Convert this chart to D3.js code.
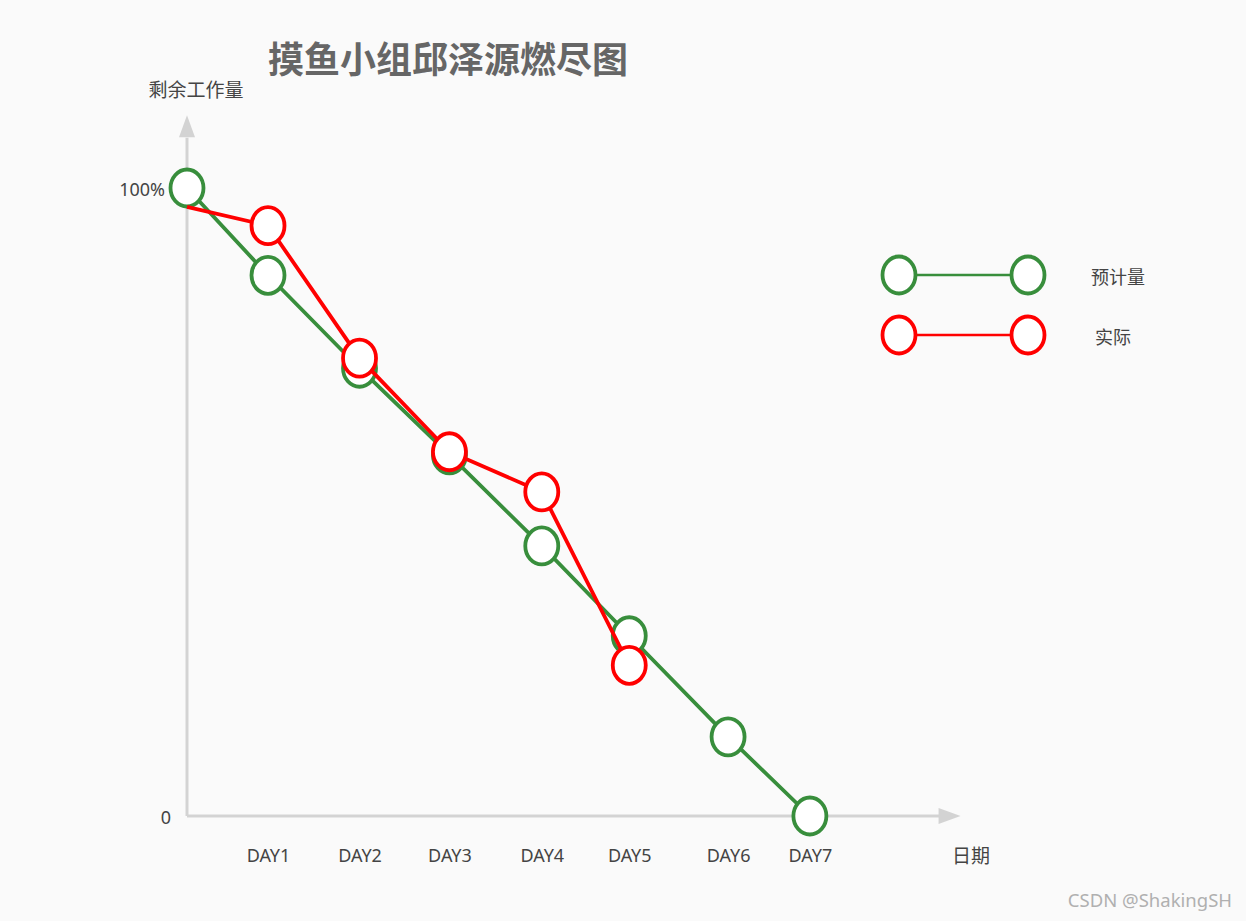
<!DOCTYPE html>
<html>
<head>
<meta charset = 'utf-8'>
<script src = 'https://d3js.org/d3.v7.min.js'></script>
<style>
body { margin: 0; background: #fafafa; }
text { font-family: 'Noto Sans', 'Noto Sans CJK SC', sans-serif; }
</style>
</head>
<body>
<div id="my_dataviz"></div>
<script>
// data
var days = ['DAY1', 'DAY2', 'DAY3', 'DAY4', 'DAY5', 'DAY6', 'DAY7'];
var dayX = [1, 2.13, 3.24, 4.38, 5.46, 6.68, 7.69];
var planned = [100, 86.1, 71.3, 57.5, 43.0, 28.7, 12.6, 0];
var actual = [97.0, 94.0, 72.9, 58.0, 51.6, 24.0];
var seriesNames = ['预计量', '实际'];
var seriesColors = ['#388e3c', '#ff0000'];

var width = 1246, height = 921;

var svg = d3.select('#my_dataviz')
.append('svg')
.attr('width', width)
.attr('height', height)
.style('background', '#fafafa');

var x = d3.scaleLinear().domain([0, 8]).range([187, 835]);
var y = d3.scaleLinear().domain([0, 100]).range([816, 188]);

var xs = [0].concat(dayX);

// axes lines + arrows
var axisColor = '#d3d3d3';
svg.append('line')
.attr('x1', x(0)).attr('y1', y(0))
.attr('x2', x(9.3)).attr('y2', y(0))
.style('stroke', axisColor).style('stroke-width', 3);
svg.append('line')
.attr('x1', x(0)).attr('y1', y(0))
.attr('x2', x(0)).attr('y2', y(108))
.style('stroke', axisColor).style('stroke-width', 3);
svg.append('path')
.attr('d', 'M' + x(9.55) + ',' + y(0) + 'L' + (x(9.55) - 22) + ',' + (y(0) - 8) + 'L' + (x(9.55) - 22) + ',' + (y(0) + 8) + 'Z')
.style('fill', axisColor);
svg.append('path')
.attr('d', 'M' + x(0) + ',' + y(111.6) + 'L' + (x(0) - 8) + ',' + (y(111.6) + 22) + 'L' + (x(0) + 8) + ',' + (y(111.6) + 22) + 'Z')
.style('fill', axisColor);

// tick labels
var yAxis = svg.append('g')
.call(d3.axisLeft(y).tickValues([0, 100]).tickSize(0).tickPadding(22)
.tickFormat(function(d) { return d === 100 ? '100%' : '0'; }))
.attr('transform', 'translate(' + x(0) + ',0)');
yAxis.select('.domain').remove();
yAxis.selectAll('text')
.attr('dy', '0.4em')
.style('font-size', '18px').style('fill', '#444')
.style('font-family', "'Noto Sans', 'Noto Sans CJK SC', sans-serif");
yAxis.selectAll('.tick').filter(function(d) { return d === 0; })
.select('text').attr('x', -16);

var xAxis = svg.append('g')
.call(d3.axisBottom(x).tickValues(dayX).tickSize(0).tickPadding(33)
.tickFormat(function(d, i) { return days[i]; }))
.attr('transform', 'translate(0,' + y(0) + ')');
xAxis.select('.domain').remove();
xAxis.selectAll('text')
.style('font-size', '18px').style('fill', '#444')
.style('font-family', "'Noto Sans', 'Noto Sans CJK SC', sans-serif");

// titles
svg.append('text')
.attr('x', 268).attr('y', 73)
.text('摸鱼小组邱泽源燃尽图')
.style('font-size', '36px').style('font-weight', 'bold').style('fill', '#666');
svg.append('text')
.attr('x', 196).attr('y', 97).attr('text-anchor', 'middle')
.text('剩余工作量')
.style('font-size', '19px').style('fill', '#444');
svg.append('text')
.attr('x', 971).attr('y', 863).attr('text-anchor', 'middle')
.text('日期')
.style('font-size', '19px').style('fill', '#444');

// series
var line = d3.line()
.x(function(d) { return x(d[0]); })
.y(function(d) { return y(d[1]); });

function drawSeries(values, color, withFirst) {
  var pts = values.map(function(v, i) { return [xs[i], v]; });
  svg.append('path')
  .datum(pts)
  .attr('d', line)
  .style('fill', 'none')
  .style('stroke', color)
  .style('stroke-width', 3.8);
  svg.selectAll(null)
  .data(withFirst ? pts : pts.slice(1))
  .enter()
  .append('ellipse')
  .attr('cx', function(d) { return x(d[0]); })
  .attr('cy', function(d) { return y(d[1]); })
  .attr('rx', 16.5)
  .attr('ry', 18.5)
  .style('fill', '#fff')
  .style('stroke', color)
  .style('stroke-width', 3.8);
}
drawSeries(planned, seriesColors[0], true);
drawSeries(actual, seriesColors[1], false);

// legend
var legend = svg.selectAll('.legend')
.data(seriesNames)
.enter()
.append('g')
.attr('transform', function(d, i) { return 'translate(0,' + (275 + i * 60) + ')'; });
legend.append('line')
.attr('x1', 899).attr('x2', 1028)
.style('stroke', function(d, i) { return seriesColors[i]; })
.style('stroke-width', 2.5);
legend.selectAll('ellipse')
.data(function(d, i) { return [[899, seriesColors[i]], [1028, seriesColors[i]]]; })
.enter()
.append('ellipse')
.attr('cx', function(d) { return d[0]; })
.attr('rx', 16.5).attr('ry', 18.5)
.style('fill', '#fff')
.style('stroke', function(d) { return d[1]; })
.style('stroke-width', 3.8);
legend.append('text')
.attr('x', function(d, i) { return i === 0 ? 1118 : 1113; })
.attr('y', 9)
.attr('text-anchor', 'middle')
.text(function(d) { return d; })
.style('font-size', '18px').style('fill', '#444');

// watermark
svg.append('text')
.attr('x', 1232).attr('y', 907).attr('text-anchor', 'end')
.text('CSDN @ShakingSH')
.style('font-size', '18.5px').style('fill', '#b0b0b0');
</script>
</body>
</html>
